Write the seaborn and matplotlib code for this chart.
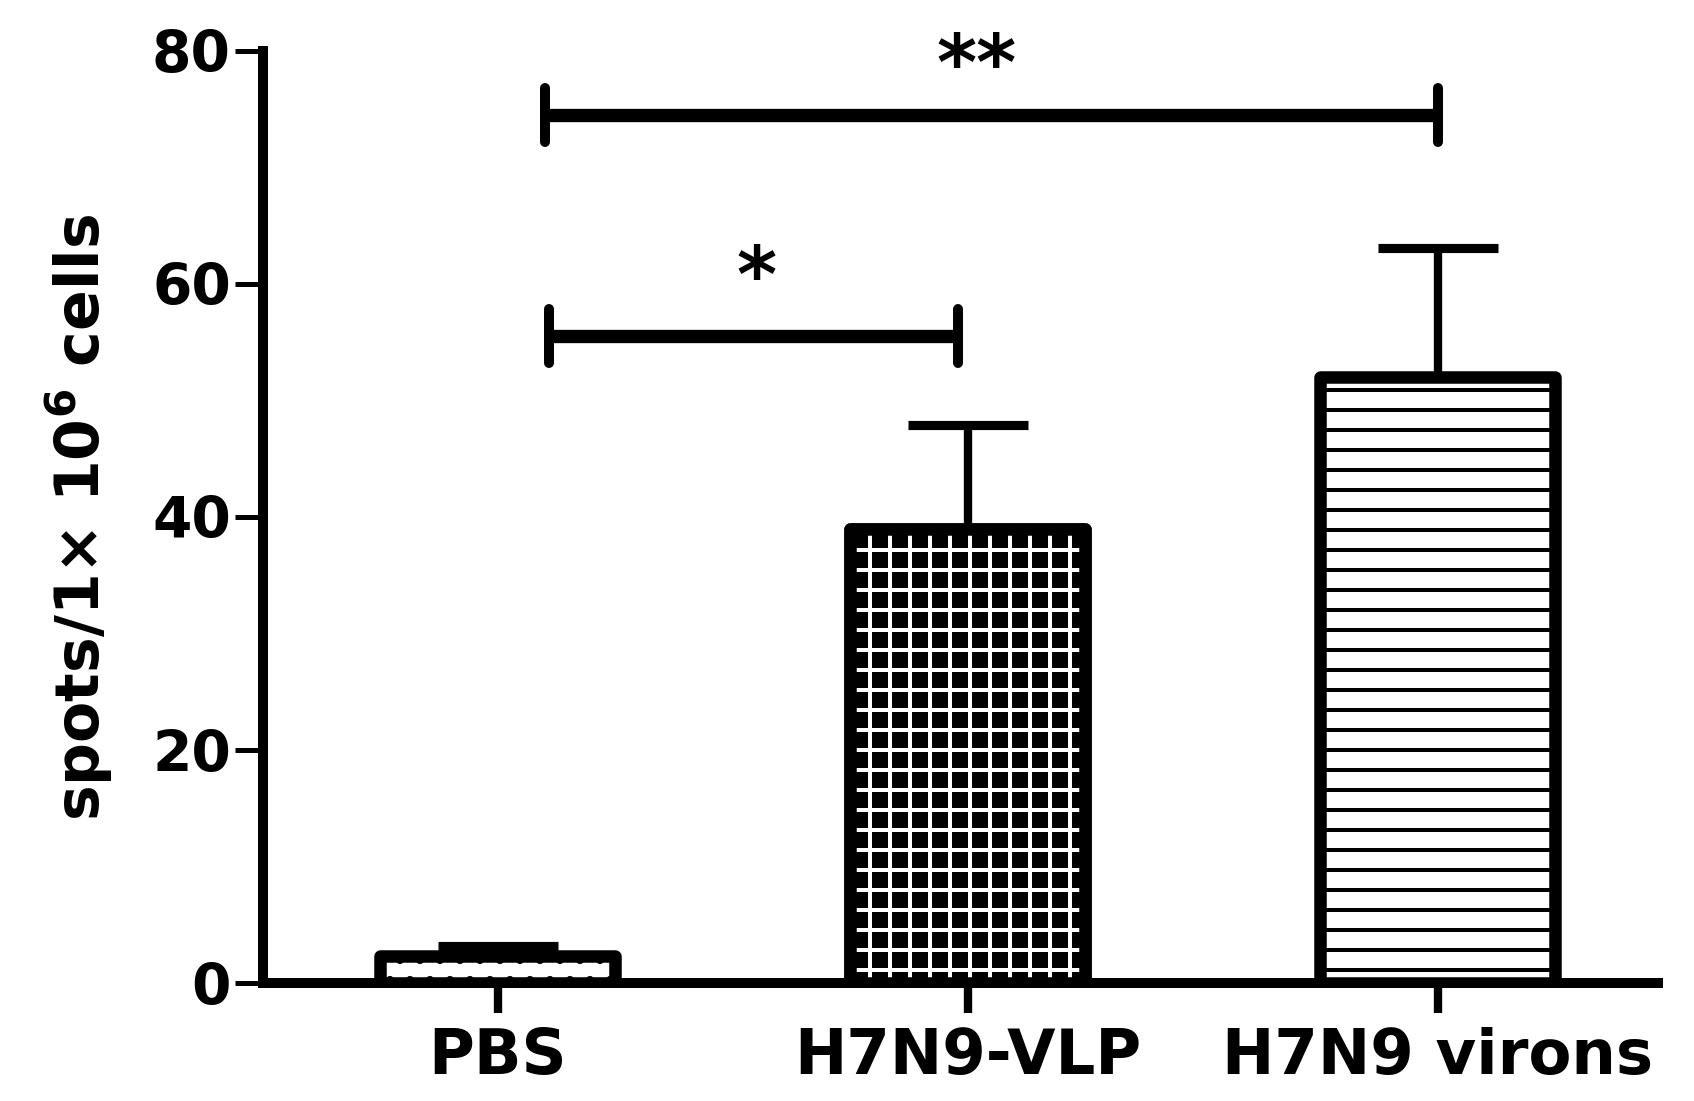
import numpy as np
import pandas as pd
import seaborn as sns
import matplotlib.pyplot as plt
from matplotlib.patches import Rectangle

# data
groups = ['PBS', 'H7N9-VLP', 'H7N9 virons']
means = [2.3, 39.0, 52.0]
sems = [0.9, 8.9, 11.1]
hatches = ['.', '+', '-']

# significance brackets: (start, end, height, label, text x, text y)
sig_start = [0.1, 0.11]
sig_end = [2.0, 0.98]
sig_height = [74.5, 55.5]
sig_label = ['**', '*']
sig_text_x = [1.02, 0.55]
sig_text_y = [76.7, 58.5]

sns.set_theme(style='ticks')
plt.rcParams['font.family'] = ['DejaVu Sans']
plt.rcParams['font.weight'] = 'bold'
plt.rcParams['text.color'] = 'black'
plt.rcParams['axes.labelcolor'] = 'black'
plt.rcParams['mathtext.fontset'] = 'dejavusans'
plt.rcParams['mathtext.default'] = 'bf'
plt.rcParams['hatch.linewidth'] = 2.4

fig, ax = plt.subplots(figsize=(1694 / 120, 1101 / 120), dpi=120)
fig.subplots_adjust(left=0.155, right=0.979, bottom=0.107, top=0.954)

df = pd.DataFrame({'group': groups, 'value': means})
sns.barplot(data=df, x='group', y='value', color='white', saturation=1,
            width=0.5, edgecolor='black', linewidth=7.5, errorbar=None, ax=ax)

for patch, h in zip(list(ax.patches), hatches):
    patch.set_joinstyle('round')
    if h == '+':
        # white texture on a black bar
        patch.set_facecolor('black')
        x, y = patch.get_x(), patch.get_y()
        w, ht = patch.get_width(), patch.get_height()
        ax.add_patch(Rectangle((x, y), w, ht, fill=False, edgecolor='white',
                               lw=0, hatch='+', zorder=patch.get_zorder() + 0.1))
        ax.add_patch(Rectangle((x, y), w, ht, fill=False, edgecolor='black',
                               lw=7.5, joinstyle='round', zorder=patch.get_zorder() + 0.2))
    else:
        patch.set_hatch(h)

# only the upper half of the error bars is visible
ax.errorbar(np.arange(len(groups)), means, yerr=[np.zeros(len(sems)), sems],
            fmt='none', ecolor='black', elinewidth=5, capsize=36, capthick=5.5, zorder=0.5)

for x0, x1, y, lab, tx, ty in zip(sig_start, sig_end, sig_height, sig_label, sig_text_x, sig_text_y):
    ax.plot([x0, x1], [y, y], color='black', lw=8, solid_capstyle='butt', clip_on=False)
    for xe in (x0, x1):
        ax.plot([xe, xe], [y - 2.3, y + 2.3], color='black', lw=6,
                solid_capstyle='round', clip_on=False)
    ax.text(tx, ty, lab, ha='center', va='baseline', fontsize=46, fontweight='bold',
            color='black', clip_on=False)

ax.set_xlim(-0.5, 2.47)
ax.set_ylim(0, 80)
ax.set_yticks([0, 20, 40, 60, 80])
ax.set_xlabel('')
ax.set_ylabel('spots/1× 10$^{6}$ cells', fontsize=36, fontweight='bold', color='black')
ax.yaxis.set_label_coords(-0.106, 0.5)

sns.despine(ax=ax)
for side in ('left', 'bottom'):
    ax.spines[side].set_linewidth(6)
    ax.spines[side].set_color('black')
ax.tick_params(axis='y', length=17, width=3, pad=2, labelsize=34, colors='black')
ax.tick_params(axis='x', length=18, width=5, pad=8, labelsize=37.5, colors='black')
for lab in ax.get_xticklabels() + ax.get_yticklabels():
    lab.set_fontweight('bold')

plt.savefig('out.png', dpi=120)
